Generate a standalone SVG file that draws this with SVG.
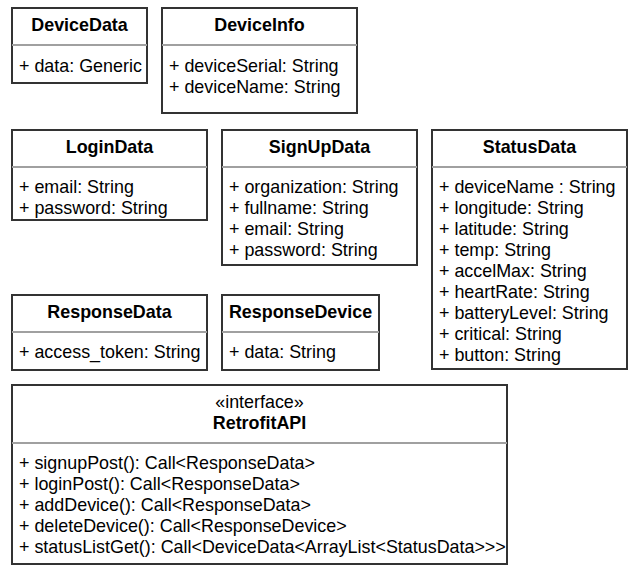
<svg xmlns="http://www.w3.org/2000/svg" width="639" height="576" viewBox="0 0 639 576">
<style>
.box{fill:#fff;stroke:#333;stroke-width:2}
.sep{stroke:#a0a0a0;stroke-width:2}
.t{font-family:"Liberation Sans",Arial,sans-serif;font-size:17.9px;font-weight:bold;text-anchor:middle;fill:#000}
.s{font-family:"Liberation Sans",Arial,sans-serif;font-size:17.9px;text-anchor:middle;fill:#000}
.a{font-family:"Liberation Sans",Arial,sans-serif;font-size:17.9px;fill:#000}
</style>
<rect width="639" height="576" fill="#fff"/>
<g id="DeviceData">
<rect class="box" x="12" y="8" width="135" height="75"/>
<line class="sep" x1="12" y1="45" x2="147" y2="45"/>
<text class="t" x="79.5" y="31">DeviceData</text>
<text class="a" x="19" y="72">+ data: Generic</text>
</g>
<g id="DeviceInfo">
<rect class="box" x="162" y="8" width="195" height="105"/>
<line class="sep" x1="162" y1="45" x2="357" y2="45"/>
<text class="t" x="259.5" y="31">DeviceInfo</text>
<text class="a" x="169" y="72">+ deviceSerial: String</text>
<text class="a" x="169" y="93">+ deviceName: String</text>
</g>
<g id="LoginData">
<rect class="box" x="12" y="130" width="195" height="90"/>
<line class="sep" x1="12" y1="167" x2="207" y2="167"/>
<text class="t" x="109.5" y="153">LoginData</text>
<text class="a" x="19" y="193">+ email: String</text>
<text class="a" x="19" y="214">+ password: String</text>
</g>
<g id="SignUpData">
<rect class="box" x="222" y="130" width="195" height="135"/>
<line class="sep" x1="222" y1="167" x2="417" y2="167"/>
<text class="t" x="319.5" y="153">SignUpData</text>
<text class="a" x="229" y="193">+ organization: String</text>
<text class="a" x="229" y="214">+ fullname: String</text>
<text class="a" x="229" y="235">+ email: String</text>
<text class="a" x="229" y="256">+ password: String</text>
</g>
<g id="StatusData">
<rect class="box" x="432" y="130" width="195" height="239"/>
<line class="sep" x1="432" y1="167" x2="627" y2="167"/>
<text class="t" x="529.5" y="153">StatusData</text>
<text class="a" x="439" y="193">+ deviceName : String</text>
<text class="a" x="439" y="214">+ longitude: String</text>
<text class="a" x="439" y="235">+ latitude: String</text>
<text class="a" x="439" y="256">+ temp: String</text>
<text class="a" x="439" y="277">+ accelMax: String</text>
<text class="a" x="439" y="298">+ heartRate: String</text>
<text class="a" x="439" y="319">+ batteryLevel: String</text>
<text class="a" x="439" y="340">+ critical: String</text>
<text class="a" x="439" y="361">+ button: String</text>
</g>
<g id="ResponseData">
<rect class="box" x="12" y="295" width="195" height="75"/>
<line class="sep" x1="12" y1="332" x2="207" y2="332"/>
<text class="t" x="109.5" y="318">ResponseData</text>
<text class="a" x="19" y="358">+ access_token: String</text>
</g>
<g id="ResponseDevice">
<rect class="box" x="222" y="295" width="157" height="75"/>
<line class="sep" x1="222" y1="332" x2="379" y2="332"/>
<text class="t" x="300.5" y="318">ResponseDevice</text>
<text class="a" x="229" y="358">+ data: String</text>
</g>
<g id="RetrofitAPI">
<rect class="box" x="12" y="385" width="495" height="179"/>
<line class="sep" x1="12" y1="443" x2="507" y2="443"/>
<text class="s" x="259.5" y="408">«interface»</text>
<text class="t" x="259.5" y="429">RetrofitAPI</text>
<text class="a" x="19" y="469">+ signupPost(): Call&lt;ResponseData&gt;</text>
<text class="a" x="19" y="490">+ loginPost(): Call&lt;ResponseData&gt;</text>
<text class="a" x="19" y="511">+ addDevice(): Call&lt;ResponseData&gt;</text>
<text class="a" x="19" y="532">+ deleteDevice(): Call&lt;ResponseDevice&gt;</text>
<text class="a" x="19" y="553">+ statusListGet(): Call&lt;DeviceData&lt;ArrayList&lt;StatusData&gt;&gt;&gt;</text>
</g>
<g id="connectors"></g>
</svg>
